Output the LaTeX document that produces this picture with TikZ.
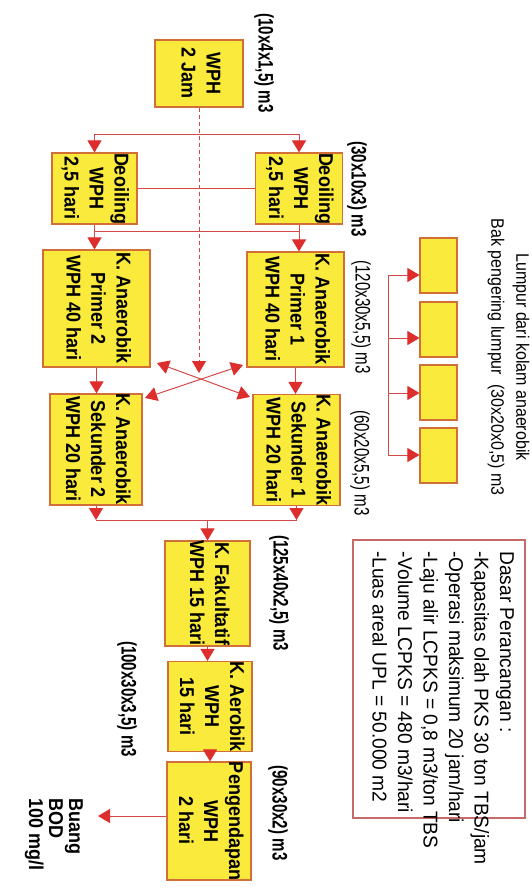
\documentclass[tikz,border=0pt]{standalone}
\usepackage{fontspec}
\setmainfont{Liberation Sans}[FakeStretch=0.72]
\newfontfamily\boxfont{Liberation Sans}[FakeStretch=0.9]
\newfontfamily\designfont{Liberation Sans}[FakeStretch=0.96]
\newfontfamily\lumpfont{Liberation Sans}[FakeStretch=0.89]
\usetikzlibrary{arrows.meta}
\definecolor{boxfill}{RGB}{250,234,60}
\definecolor{boxdraw}{RGB}{210,110,55}
\definecolor{linered}{RGB}{212,72,72}
\definecolor{tipred}{RGB}{222,45,45}
\definecolor{designdraw}{RGB}{200,105,105}
\newcommand{\rtxt}[1]{\rotatebox{-90}{\begin{tabular}{@{}c@{}}#1\end{tabular}}}
\begin{document}
\begin{tikzpicture}[x=1pt,y=-1pt,
  pond/.style={draw=boxdraw, fill=boxfill, line width=1.1pt, inner sep=0pt,
    font=\boxfont\fontsize{20}{25}\selectfont\bfseries},
  bed/.style={draw=boxdraw, fill=boxfill, line width=1.1pt, inner sep=0pt,
    minimum width=37pt, minimum height=55pt},
  conn/.style={draw=linered, line width=1pt},
  tip/.tip={Triangle[width=14pt,length=12pt,color=tipred]},
  arr/.style={conn, -tip},
  dbl/.style={conn, tip-tip},
  lblb/.style={rotate=-90, inner sep=0pt, font=\fontsize{21}{25}\selectfont\bfseries},
  lblr/.style={rotate=-90, inner sep=0pt, font=\fontsize{21}{25}\selectfont}]
\useasboundingbox (0,0) rectangle (532,891);

% ponds
\node[pond, minimum width=88pt, minimum height=67pt] (wph) at (199,73.5) {\rtxt{WPH\\2 Jam}};
\node[pond, minimum width=85pt, minimum height=67pt] (deoA) at (94.5,188.5) {\rtxt{Deoiling\\WPH\\2,5 hari}};
\node[pond, minimum width=87pt, minimum height=67pt] (deoB) at (299,188.5) {\rtxt{Deoiling\\WPH\\2,5 hari}};
\node[pond, minimum width=107pt, minimum height=117pt] (primA) at (96.5,308.5) {\rtxt{K. Anaerobik\\Primer 2\\WPH 40 hari}};
\node[pond, minimum width=97pt, minimum height=115pt] (primB) at (295.5,309.5) {\rtxt{K. Anaerobik\\Primer 1\\WPH 40 hari}};
\node[pond, minimum width=92pt, minimum height=105pt] (sekA) at (96,449.5) {\rtxt{K. Anaerobik\\Sekunder 2\\WPH 20 hari}};
\node[pond, minimum width=87pt, minimum height=106pt] (sekB) at (296.5,450) {\rtxt{K. Anaerobik\\Sekunder 1\\WPH 20 hari}};
\node[pond, minimum width=85pt, minimum height=97pt] (fak) at (207.5,593.5) {\rtxt{K. Fakultatif\\WPH 15 hari}};
\node[pond, minimum width=84pt, minimum height=83pt] (aer) at (210,706.5) {\rtxt{K. Aerobik\\WPH\\15 hari}};
\node[pond, minimum width=84pt, minimum height=104pt] (peng) at (209,821) {\rtxt{Pengendapan\\WPH\\2 hari}};

% sludge drying beds
\node[bed] (sl1) at (438.5,265.5) {};
\node[bed] (sl2) at (438.5,329.5) {};
\node[bed] (sl3) at (438.5,392.5) {};
\node[bed] (sl4) at (438.5,455.5) {};

% design box
\node[draw=designdraw, line width=1.3pt, minimum width=172pt, minimum height=278pt, inner sep=0pt] (design) at (439,679) {};
\node[rotate=-90, anchor=north west, align=left, inner sep=0pt,
  font=\designfont\fontsize{20}{25.5}\selectfont] (dtext) at (514,551)
  {Dasar Perancangan :\\-Kapasitas olah PKS 30 ton TBS/jam\\-Operasi maksimum 20 jam/hari\\-Laju alir LCPKS = 0,8 m3/ton TBS\\-Volume LCPKS = 480 m3/hari\\-Luas areal UPL = 50.000 m2};

% coordinates
\coordinate (top) at (0,134);
\coordinate (mid) at (0,231);
\coordinate (join) at (0,520);
\coordinate (dashend) at (199,373);
\coordinate (c1) at (157,363);
\coordinate (c2) at (250,397);
\coordinate (c3) at (243,365);
\coordinate (c4) at (145,398);
\coordinate (out) at (98,816);
\coordinate (s1) at (388,275);
\coordinate (s2) at (388,338);
\coordinate (s3) at (388,393);
\coordinate (s4) at (388,455);

% connectors
\draw[arr, dash pattern=on 4pt off 3pt] (wph.south) -- (dashend);
\draw[conn] (deoA.north |- top) -- (deoB.north |- top);
\draw[arr] (deoA.north |- top) -- (deoA.north);
\draw[arr] (deoB.north |- top) -- (deoB.north);
\draw[conn] (deoA.east) -- (deoB.west);
\draw[conn] (deoA.south |- mid) -- (deoB.south |- mid);
\draw[arr] (deoA.south) -- (deoA.south |- primA.north);
\draw[arr] (deoB.south) -- (deoB.south |- primB.north);
\draw[arr] (primA.south) -- (primA.south |- sekA.north);
\draw[arr] (primB.south) -- (primB.south |- sekB.north);
\draw[dbl] (c1) -- (c2);
\draw[dbl] (c3) -- (c4);
\draw[arr] (sekA.south) -- (sekA.south |- join);
\draw[arr] (sekB.south) -- (sekB.south |- join);
\draw[conn] (sekA.south |- join) -- (sekB.south |- join);
\draw[arr] (fak.north |- join) -- (fak.north);
\draw[arr] (fak.south) -- (fak.south |- aer.north);
\draw[arr] (aer.south) -- (aer.south |- peng.north);
\draw[arr] (peng.west |- out) -- (out);
\draw[conn] (s1) -- (s4);
\draw[arr] (s1) -- (s1 -| sl1.west);
\draw[arr] (s2) -- (s2 -| sl2.west);
\draw[arr] (s3) -- (s3 -| sl3.west);
\draw[arr] (s4) -- (s4 -| sl4.west);

% labels
\node[lblb] (l1) at (264,63) {(10x4x1,5) m3};
\node[lblb] (l2) at (357,189) {(30x10x3) m3};
\node[lblr] (l3) at (361,317) {(120x30x5,5) m3};
\node[lblr] (l4) at (360,463) {(60x20x5,5) m3};
\node[lblb] (l5) at (279,593) {(125x40x2,5) m3};
\node[lblb] (l6) at (127,699) {(100x30x3,5) m3};
\node[lblb] (l7) at (278,813) {(90x30x2) m3};
\node[rotate=-90, anchor=north west, align=left, inner sep=0pt,
  font=\boxfont\fontsize{20}{20}\selectfont\bfseries] (buang) at (83,798) {Buang\\BOD\\100 mg/l};
\node[rotate=-90, align=center, inner sep=0pt,
  font=\lumpfont\fontsize{18}{25}\selectfont] (lump) at (508.5,357)
  {Lumpur dari kolam anaerobik\\Bak pengering lumpur\ \ (30x20x0,5) m3};
\end{tikzpicture}
\end{document}
